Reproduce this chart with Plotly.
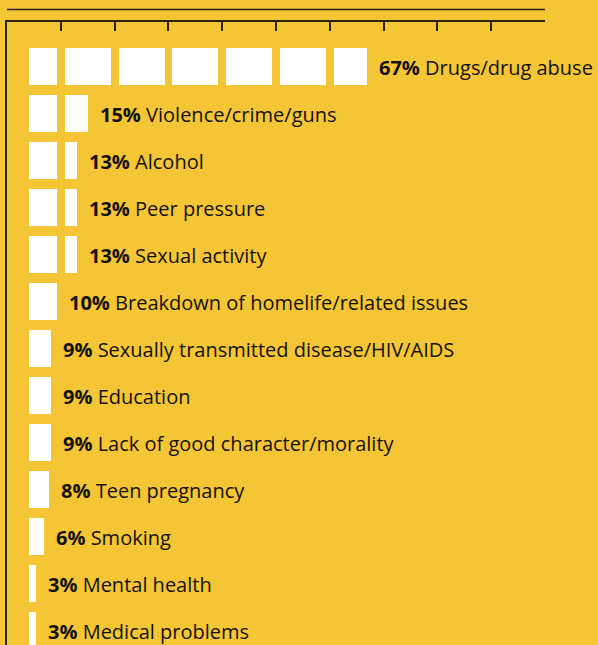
import plotly.graph_objects as go

# Survey responses: share naming each issue
categories = [
    "Drugs/drug abuse",
    "Violence/crime/guns",
    "Alcohol",
    "Peer pressure",
    "Sexual activity",
    "Breakdown of homelife/related issues",
    "Sexually transmitted disease/HIV/AIDS",
    "Education",
    "Lack of good character/morality",
    "Teen pregnancy",
    "Smoking",
    "Mental health",
    "Medical problems",
]
percents = [67, 15, 13, 13, 13, 10, 9, 9, 9, 8, 6, 3, 3]
tick_values = [10, 20, 30, 40, 50, 60, 70, 80, 90, 100]

BG = "#F4C535"
INK = "#2A2316"
FONT = "Open Sans"

W, H = 598, 645
L, R, T, B = 7, 53, 22, 0
px_per_unit = (W - L - R) / 100.0

# first block starts inset from the axis and is drawn on a compressed scale
first_start = 22 / px_per_unit
first_scale = 2.45 / px_per_unit
gap = 3.9 / px_per_unit

seg_y, seg_base, seg_len = [], [], []
label_x = []
for i, v in enumerate(percents):
    # first 10% block
    start = first_start
    end = 10 - gap if v >= 10 else first_start + v * first_scale
    seg_y.append(i)
    seg_base.append(start)
    seg_len.append(end - start)
    last_end = end
    k = 1
    while v > 10 * k:
        start = 10 * k + gap
        end = v if v < 10 * (k + 1) else 10 * (k + 1) - gap
        seg_y.append(i)
        seg_base.append(start)
        seg_len.append(end - start)
        last_end = end
        k += 1
    label_x.append(last_end)

fig = go.Figure()
fig.add_trace(go.Bar(
    y=seg_y, x=seg_len, base=seg_base, orientation="h",
    width=37 / 47,
    marker=dict(color="white", line=dict(width=0)),
    hoverinfo="skip",
))

plot_h = H - T - B
row_px = 47
first_center = 66
y_top = -(first_center - T) / row_px
y_bottom = (H - B - first_center) / row_px

for i, (cat, v) in enumerate(zip(categories, percents)):
    fig.add_annotation(
        x=label_x[i], y=i, xref="x", yref="y",
        text=f"<b>{v}%</b> {cat}",
        showarrow=False, xanchor="left", yanchor="middle",
        xshift=10, yshift=-1,
        font=dict(family=FONT, size=20, color="#141210"),
    )

# rule above the axis
fig.add_shape(type="line", xref="paper", yref="paper",
              x0=0, x1=1, y0=1 + 12.5 / plot_h, y1=1 + 12.5 / plot_h,
              line=dict(color=INK, width=1.6))

fig.update_layout(
    width=W, height=H,
    margin=dict(l=L, r=R, t=T, b=B, pad=0),
    paper_bgcolor=BG, plot_bgcolor=BG,
    showlegend=False,
    bargap=0,
    xaxis=dict(
        range=[0, 100], side="top", showgrid=False, zeroline=False,
        showline=True, linecolor=INK, linewidth=1.6,
        ticks="inside", ticklen=9, tickwidth=1.5, tickcolor=INK,
        tickvals=tick_values, showticklabels=False, fixedrange=True,
    ),
    yaxis=dict(
        range=[y_bottom, y_top], showgrid=False, zeroline=False,
        showline=True, linecolor=INK, linewidth=1.6,
        showticklabels=False, ticks="", fixedrange=True,
    ),
)

fig.write_html("out.html")
